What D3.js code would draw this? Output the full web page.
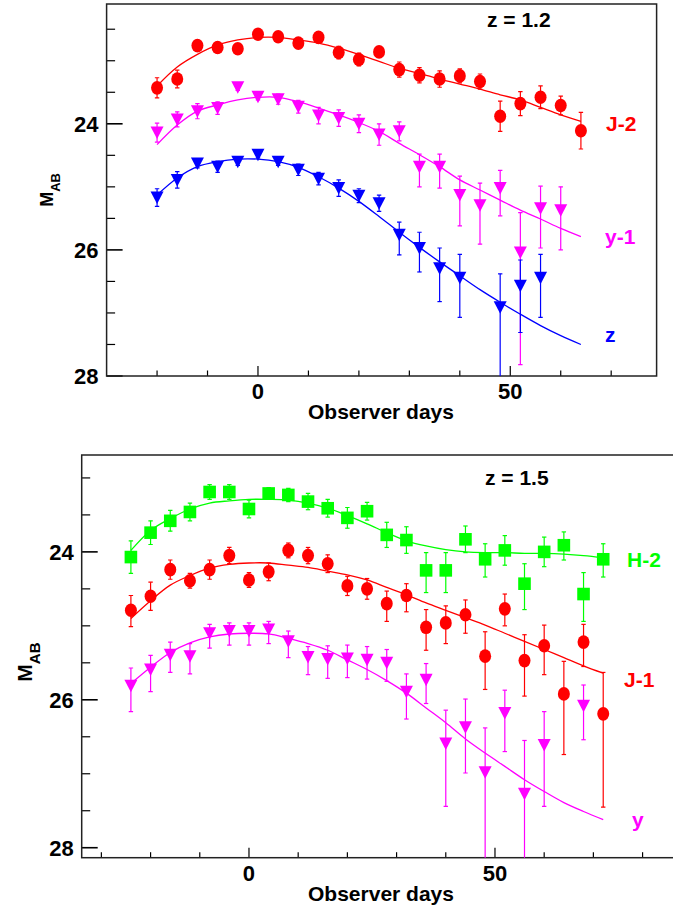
<!DOCTYPE html>
<html><head><meta charset="utf-8">
<script src="https://cdn.jsdelivr.net/npm/d3@7"></script>
<style>
html,body{margin:0;padding:0;background:#fff;}
svg{display:block;font-family:"Liberation Sans",Arial,Helvetica,sans-serif;font-weight:bold;}
</style></head>
<body>
<svg id="chart" width="673" height="911"></svg>
<script>
// ---------------- Top panel (z = 1.2) ----------------
const daysTop = [-20,-16,-12,-8,-4,0,4,8,12,16,20,24,28,32,36,40,44,48,52,56,60,64];
const topJ2 = [23.43,23.29,22.76,22.79,22.81,22.58,22.62,22.72,22.63,22.87,22.98,22.86,23.14,23.23,23.29,23.24,23.33,23.88,23.68,23.58,23.71,24.11];
const topJ2ErrUp = [0.16,0.14,0.06,0.06,0.07,0.05,0.05,0.06,0.06,0.10,0.10,0.07,0.12,0.12,0.13,0.11,0.12,0.24,0.19,0.18,0.15,0.29];
const topJ2ErrDn = [0.16,0.14,0.06,0.06,0.07,0.05,0.05,0.06,0.06,0.10,0.10,0.07,0.12,0.12,0.13,0.11,0.12,0.24,0.19,0.18,0.15,0.29];
const topJ2Fit = [23.40,23.10,22.90,22.75,22.67,22.63,22.63,22.67,22.72,22.80,22.90,23.01,23.12,23.20,23.29,23.37,23.45,23.54,23.62,23.74,23.86,23.96];

const topY1 = [24.14,23.93,23.80,23.75,23.42,23.57,23.61,23.73,23.87,23.91,24.00,24.17,24.12,24.68,24.68,25.13,25.29,25.02,26.04,25.34,25.37,null];
const topY1ErrUp = [0.15,0.12,0.12,0.10,0.05,0.05,0.08,0.10,0.13,0.13,0.14,0.17,0.15,0.20,0.20,0.30,0.35,0.28,0.63,0.35,0.37,null];
const topY1ErrDn = [0.15,0.12,0.12,0.10,0.05,0.05,0.08,0.10,0.13,0.13,0.14,0.17,0.15,0.32,0.34,0.49,0.62,0.44,1.78,0.63,0.63,null];
const topY1Fit = [24.33,24.02,23.80,23.70,23.62,23.58,23.58,23.65,23.75,23.86,23.98,24.12,24.31,24.49,24.68,24.89,25.05,25.21,25.37,25.51,25.66,25.79];

const topZ = [25.17,24.89,24.63,24.68,24.60,24.49,24.60,24.73,24.87,25.02,25.14,25.26,25.76,25.97,26.29,26.44,null,26.91,26.57,26.44,null,null];
const topZErrUp = [0.14,0.13,0.07,0.09,0.06,0.05,0.06,0.09,0.10,0.13,0.11,0.13,0.20,0.25,0.32,0.37,null,0.53,0.41,0.37,null,null];
const topZErrDn = [0.14,0.13,0.07,0.09,0.06,0.05,0.06,0.09,0.10,0.13,0.11,0.13,0.32,0.38,0.53,0.63,null,1.30,0.74,0.63,null,null];
const topZFit = [25.13,24.86,24.68,24.60,24.56,24.56,24.60,24.69,24.84,25.02,25.23,25.47,25.72,25.96,26.19,26.41,26.63,26.83,27.02,27.20,27.36,27.50];

// ---------------- Bottom panel (z = 1.5) ----------------
const daysBot = [-24,-20,-16,-12,-8,-4,0,4,8,12,16,20,24,28,32,36,40,44,48,52,56,60,64,68,72];
const botH2 = [24.07,23.74,23.58,23.46,23.19,23.19,23.42,23.21,23.23,23.32,23.41,23.54,23.45,23.77,23.84,24.25,24.25,23.83,24.10,23.98,24.43,24.00,23.91,24.57,24.10];
const botH2ErrUp = [0.22,0.16,0.14,0.12,0.10,0.10,0.12,0.08,0.09,0.11,0.12,0.14,0.12,0.17,0.18,0.24,0.24,0.18,0.21,0.20,0.27,0.20,0.18,0.29,0.21];
const botH2ErrDn = [0.22,0.16,0.14,0.12,0.10,0.10,0.12,0.08,0.09,0.11,0.12,0.14,0.12,0.17,0.18,0.30,0.30,0.18,0.24,0.20,0.35,0.20,0.20,0.37,0.24];
const botH2Fit = [23.98,23.71,23.55,23.42,23.34,23.31,23.29,23.29,23.30,23.34,23.41,23.51,23.62,23.74,23.85,23.92,23.97,24.00,24.01,24.01,24.02,24.02,24.03,24.05,24.08];

const botJ1 = [24.79,24.60,24.24,24.39,24.24,24.05,24.38,24.27,23.98,24.05,24.16,24.46,24.50,24.70,24.59,25.02,24.96,24.85,25.41,24.77,25.47,25.27,25.92,25.22,26.19];
const botJ1ErrUp = [0.20,0.19,0.13,0.10,0.13,0.11,0.10,0.12,0.10,0.11,0.12,0.13,0.14,0.17,0.16,0.24,0.23,0.20,0.33,0.20,0.35,0.28,0.44,0.24,0.56];
const botJ1ErrDn = [0.22,0.19,0.13,0.10,0.13,0.11,0.10,0.12,0.10,0.11,0.12,0.13,0.14,0.24,0.22,0.31,0.28,0.25,0.45,0.23,0.48,0.39,0.82,0.33,1.26];
const botJ1Fit = [24.90,24.66,24.45,24.32,24.22,24.17,24.15,24.15,24.18,24.21,24.26,24.31,24.38,24.48,24.58,24.69,24.79,24.89,24.99,25.10,25.21,25.32,25.43,25.54,25.64];

const botY = [25.81,25.59,25.39,25.41,25.10,25.07,25.07,25.05,25.21,25.42,25.45,25.44,25.46,25.50,25.89,25.73,26.59,26.37,26.98,26.18,27.27,26.61,null,26.08,null];
const botYErrUp = [0.24,0.19,0.17,0.17,0.12,0.11,0.11,0.11,0.14,0.14,0.18,0.18,0.18,0.18,0.24,0.22,0.45,0.38,0.60,0.31,0.72,0.45,null,0.28,null];
const botYErrDn = [0.35,0.30,0.24,0.24,0.20,0.19,0.19,0.19,0.22,0.24,0.26,0.26,0.26,0.25,0.37,0.32,0.85,0.62,1.50,0.52,1.50,0.83,null,0.46,null];
const botYFit = [25.78,25.56,25.36,25.23,25.15,25.11,25.10,25.11,25.17,25.24,25.33,25.46,25.59,25.74,25.91,26.11,26.31,26.53,26.72,26.90,27.08,27.24,27.39,27.51,27.62];

const xTickLabels = [0, 50];
const yTickLabels = [24, 26, 28];

const svg = d3.select("#chart");

function drawPanel(cfg) {
  const g = svg.append("g");
  const x = d3.scaleLinear().domain(cfg.xDomain).range(cfg.xRange);
  const y = d3.scaleLinear().domain(cfg.yDomain).range(cfg.yRange);
  const [x0, x1] = cfg.xRange, [y0, y1] = cfg.yRange;
  const clipId = "clip" + cfg.id;
  g.append("clipPath").attr("id", clipId).append("rect")
    .attr("x", x0).attr("y", y0).attr("width", x1 - x0).attr("height", y1 - y0);

  const xt = d3.range(-30, 81, 10).filter(v => x(v) > x0 + 2 && x(v) < x1 - 2);
  g.selectAll(".xt").data(xt).join("line")
    .attr("x1", d => x(d)).attr("x2", d => x(d))
    .attr("y1", y1).attr("y2", d => y1 - (xTickLabels.includes(d) ? 10 : 5.5))
    .attr("stroke", "#000").attr("stroke-width", 1.2);
  g.selectAll(".xl").data(xTickLabels).join("text")
    .attr("x", d => x(d)).attr("y", y1 + 23)
    .attr("text-anchor", "middle").attr("font-size", 22).text(d => d);

  const yt = d3.range(22.5, 28.01, 0.5).filter(v => y(v) > y0 + 2 && y(v) <= y1);
  g.selectAll(".yt").data(yt).join("line")
    .attr("x1", x0).attr("x2", d => x0 + (yTickLabels.includes(d) ? 16 : 8.5))
    .attr("y1", d => y(d)).attr("y2", d => y(d))
    .attr("stroke", "#000").attr("stroke-width", d => yTickLabels.includes(d) ? 1.6 : 1.2);
  g.selectAll(".yl").data(yTickLabels).join("text")
    .attr("x", x0 - 8).attr("y", d => y(d) + 8)
    .attr("text-anchor", "end").attr("font-size", 22).text(d => d);

  g.append("rect").attr("x", x0).attr("y", y0).attr("width", x1 - x0).attr("height", y1 - y0)
    .attr("fill", "none").attr("stroke", "#222").attr("stroke-width", 1.5);

  const plot = g.append("g").attr("clip-path", `url(#${clipId})`);
  const line = d3.line().x(d => x(d[0])).y(d => y(d[1])).curve(d3.curveCatmullRom.alpha(0.5));

  cfg.series.forEach(s => {
    const days = cfg.days;
    plot.append("path").datum(days.map((d, i) => [d, s.fit[i]]))
      .attr("d", line).attr("fill", "none").attr("stroke", s.color).attr("stroke-width", 1.3);
    const pts = days.map((d, i) => ({d, v: s.vals[i], up: s.up[i], dn: s.dn[i]})).filter(p => p.v != null);
    const eb = plot.append("g").attr("stroke", s.color).attr("stroke-width", 1.2);
    eb.selectAll("line.v").data(pts).join("line")
      .attr("x1", p => x(p.d)).attr("x2", p => x(p.d))
      .attr("y1", p => y(p.v - p.up)).attr("y2", p => y(p.v + p.dn));
    eb.selectAll("line.t").data(pts).join("line")
      .attr("x1", p => x(p.d) - 2.2).attr("x2", p => x(p.d) + 2.2)
      .attr("y1", p => y(p.v - p.up)).attr("y2", p => y(p.v - p.up));
    eb.selectAll("line.b").data(pts).join("line")
      .attr("x1", p => x(p.d) - 2.2).attr("x2", p => x(p.d) + 2.2)
      .attr("y1", p => y(p.v + p.dn)).attr("y2", p => y(p.v + p.dn));
    const mk = plot.append("g").attr("fill", s.color);
    if (s.marker === "circle") {
      mk.selectAll("ellipse").data(pts).join("ellipse")
        .attr("cx", p => x(p.d)).attr("cy", p => y(p.v)).attr("rx", 6).attr("ry", 6.8);
    } else if (s.marker === "square") {
      mk.selectAll("rect").data(pts).join("rect")
        .attr("x", p => x(p.d) - 6.3).attr("y", p => y(p.v) - 6.3).attr("width", 12.6).attr("height", 12.6);
    } else {
      mk.selectAll("path").data(pts).join("path")
        .attr("d", p => { const cx = x(p.d), cy = y(p.v);
          return `M${cx-6.5},${cy-6}L${cx+6.5},${cy-6}L${cx},${cy+6.5}Z`; });
    }
  });

  cfg.series.forEach(s => {
    g.append("text").attr("x", s.lx).attr("y", s.ly).attr("fill", s.color)
      .attr("font-size", 21).text(s.name);
  });
  g.append("text").attr("x", cfg.zx).attr("y", cfg.zy).attr("font-size", 21).text(cfg.title);
  g.append("text").attr("x", cfg.xlx).attr("y", cfg.xly).attr("text-anchor", "middle")
    .attr("font-size", 21).text("Observer days");
  const yl = g.append("text").attr("transform", `translate(${cfg.ylx},${cfg.yly}) rotate(-90)`)
    .attr("text-anchor", "middle");
  yl.append("tspan").attr("font-size", cfg.mSize).text("M");
  yl.append("tspan").attr("font-size", cfg.mSize * 0.72).attr("dy", cfg.mSize * 0.38).text("AB");
}

drawPanel({
  id: "top", days: daysTop,
  xDomain: [-30, 79], xRange: [106.6, 656.6],
  yDomain: [22.1, 28], yRange: [4, 376],
  title: "z = 1.2", zx: 487, zy: 27,
  xlx: 381, xly: 419, ylx: 53, yly: 190, mSize: 18,
  series: [
    {name: "J-2", color: "#ff0000", marker: "circle", vals: topJ2, up: topJ2ErrUp, dn: topJ2ErrDn, fit: topJ2Fit, lx: 606, ly: 131},
    {name: "y-1", color: "#ff00ff", marker: "tri", vals: topY1, up: topY1ErrUp, dn: topY1ErrDn, fit: topY1Fit, lx: 605, ly: 244},
    {name: "z", color: "#0000ff", marker: "tri", vals: topZ, up: topZErrUp, dn: topZErrDn, fit: topZFit, lx: 605, ly: 342}
  ]
});

drawPanel({
  id: "bot", days: daysBot,
  xDomain: [-34, 88], xRange: [81.7, 81.7 + 122 * 4.92],
  yDomain: [22.69, 28.135], yRange: [455, 857.7],
  title: "z = 1.5", zx: 485, zy: 485,
  xlx: 381, xly: 901, ylx: 32, yly: 662, mSize: 21,
  series: [
    {name: "H-2", color: "#00ff00", marker: "square", vals: botH2, up: botH2ErrUp, dn: botH2ErrDn, fit: botH2Fit, lx: 627, ly: 567},
    {name: "J-1", color: "#ff0000", marker: "circle", vals: botJ1, up: botJ1ErrUp, dn: botJ1ErrDn, fit: botJ1Fit, lx: 624, ly: 687},
    {name: "y", color: "#ff00ff", marker: "tri", vals: botY, up: botYErrUp, dn: botYErrDn, fit: botYFit, lx: 632, ly: 827}
  ]
});
</script>
</body></html>
